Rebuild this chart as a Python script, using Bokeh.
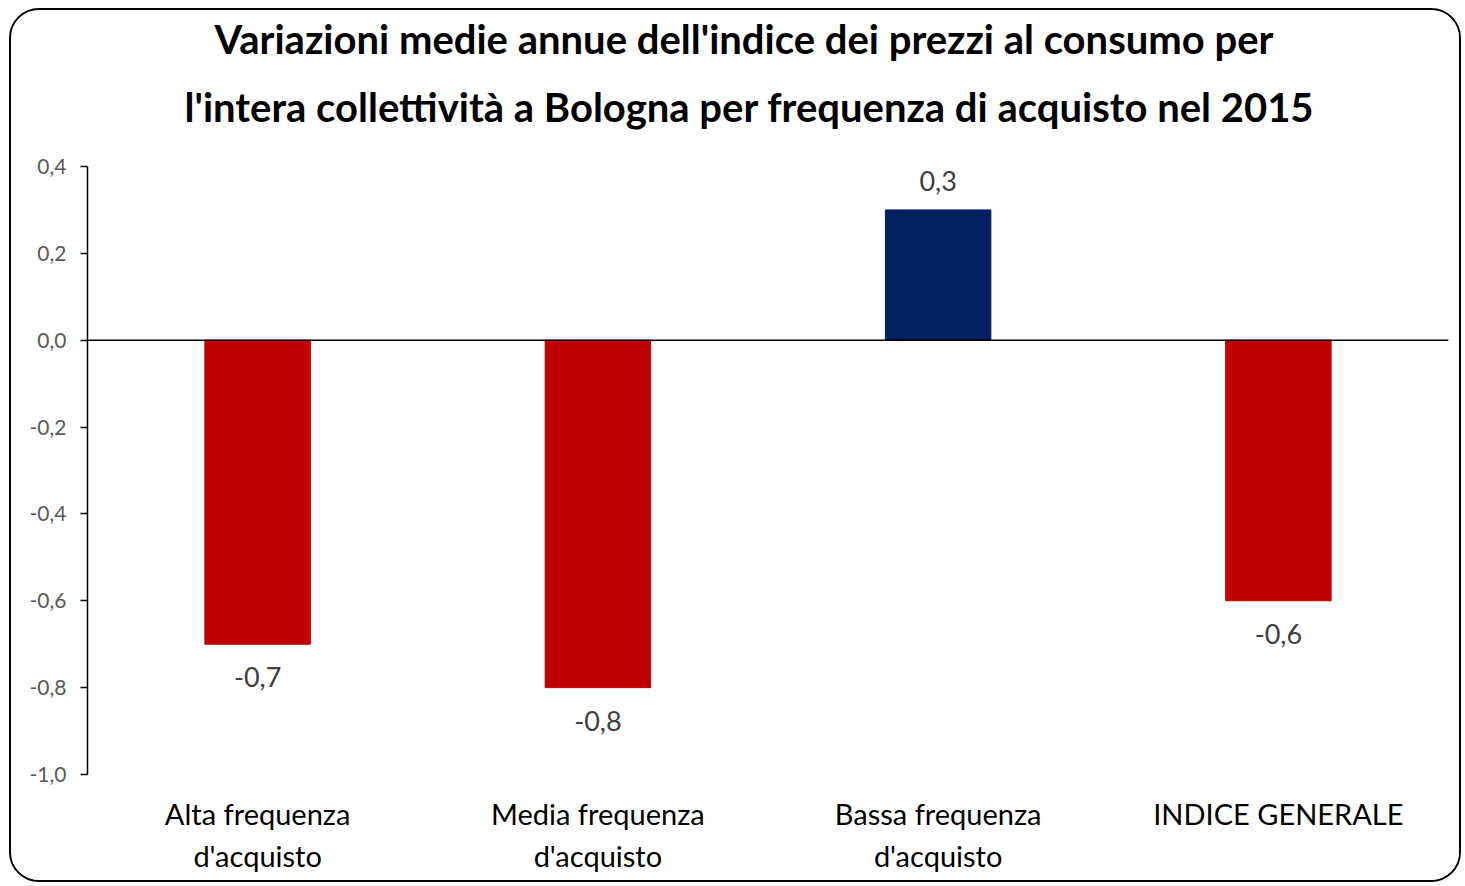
from bokeh.plotting import figure
from bokeh.models import ColumnDataSource, LabelSet, Span, Title, FixedTicker, CustomJSTickFormatter
from bokeh.core.properties import value
from bokeh.embed import file_html
from bokeh.resources import INLINE

categories = ["Alta frequenza\nd'acquisto", "Media frequenza\nd'acquisto",
              "Bassa frequenza\nd'acquisto", "INDICE GENERALE"]
values = [-0.7, -0.8, 0.3, -0.6]
colors = ["#C00000", "#C00000", "#002060", "#C00000"]
y_ticks = [-1.0, -0.8, -0.6, -0.4, -0.2, 0.0, 0.2, 0.4]
title_lines = ["Variazioni medie annue dell'indice dei prezzi al consumo per",
               "l'intera collettività a Bologna per frequenza di acquisto nel 2015"]

labels = [f"{v:.1f}".replace(".", ",") for v in values]
FONT = "Lato"

src = ColumnDataSource(dict(cat=categories, val=values, color=colors))

p = figure(x_range=categories, y_range=(-1.0, 0.4), width=1452, height=874,
           output_backend="svg", toolbar_location=None,
           min_border_left=76, min_border_right=15, min_border_bottom=110, min_border_top=156)
p.styles = {"border": "2px solid black", "border-radius": "30px", "overflow": "hidden",
            "margin-left": "9px", "margin-top": "8px"}

p.vbar(x="cat", top="val", bottom=0, width=0.31, color="color", source=src)

p.add_layout(Span(location=0, dimension="width", line_color="black", line_width=1.5))

pos_src = ColumnDataSource(dict(cat=[c for c, v in zip(categories, values) if v > 0],
                                val=[v for v in values if v > 0],
                                lab=[l for l, v in zip(labels, values) if v > 0]))
neg_src = ColumnDataSource(dict(cat=[c for c, v in zip(categories, values) if v < 0],
                                val=[v for v in values if v < 0],
                                lab=[l for l, v in zip(labels, values) if v < 0]))
p.add_layout(LabelSet(x="cat", y="val", text="lab", source=pos_src, text_align="center",
                      text_baseline="bottom", y_offset=19, text_font=value(FONT),
                      text_font_size="27px", text_color="#404040"))
p.add_layout(LabelSet(x="cat", y="val", text="lab", source=neg_src, text_align="center",
                      text_baseline="top", y_offset=-23, text_font=value(FONT),
                      text_font_size="27px", text_color="#404040"))

p.add_layout(Title(text=title_lines[1], align="left", offset=97, text_font=FONT,
                   text_font_style="bold", text_font_size="40px", text_color="black",
                   standoff=71), "above")
p.add_layout(Title(text=title_lines[0], align="left", offset=127, text_font=FONT,
                   text_font_style="bold", text_font_size="40px", text_color="black",
                   standoff=-34), "above")

p.grid.visible = False
p.outline_line_color = None

p.yaxis.ticker = FixedTicker(ticks=y_ticks)
p.yaxis.formatter = CustomJSTickFormatter(code="return tick.toFixed(1).replace('.', ',');")
p.yaxis.axis_line_color = "black"
p.yaxis.axis_line_width = 1.5
p.yaxis.major_tick_line_color = "black"
p.yaxis.major_tick_line_width = 1.5
p.yaxis.major_tick_out = 7
p.yaxis.major_tick_in = 0
p.yaxis.minor_tick_line_color = None
p.yaxis.major_label_text_font = FONT
p.yaxis.major_label_text_font_size = "21px"
p.yaxis.major_label_text_color = "#595959"
p.yaxis.major_label_standoff = 14

p.xaxis.axis_line_color = None
p.xaxis.major_tick_line_color = None
p.xaxis.minor_tick_line_color = None
p.xaxis.major_label_text_font = FONT
p.xaxis.major_label_text_font_size = "29px"
p.xaxis.major_label_text_color = "black"
p.xaxis.major_label_standoff = 15

open("out.html", "w").write(file_html(p, INLINE))
